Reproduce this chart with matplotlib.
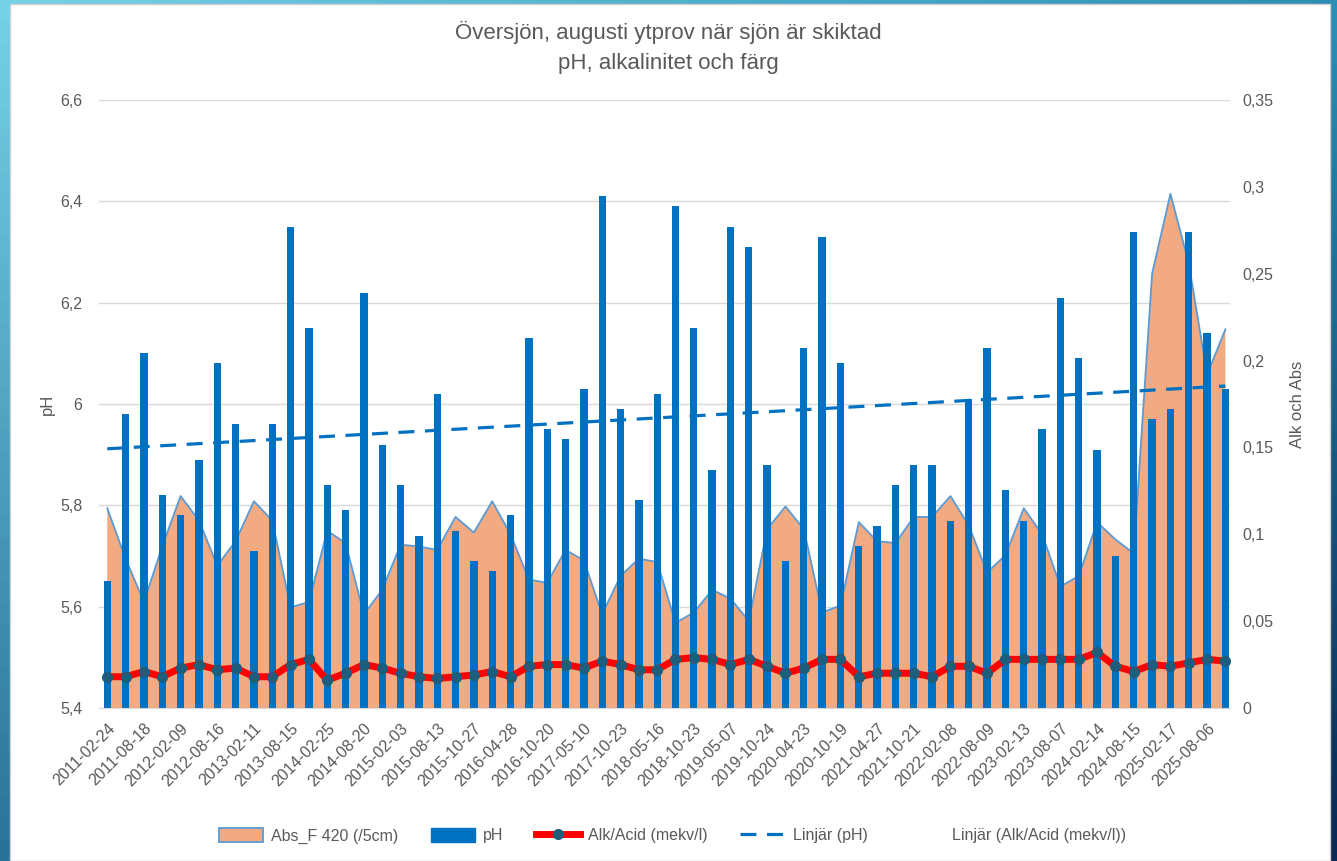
#import
import numpy as np
import matplotlib
matplotlib.use("Agg")
import matplotlib.pyplot as plt
import matplotlib.transforms as mtransforms
from matplotlib.patches import Patch, Rectangle
from matplotlib.lines import Line2D

#data
tickLabels = ["2011-02-24", "2011-08-18", "2012-02-09", "2012-08-16", "2013-02-11", "2013-08-15",
              "2014-02-25", "2014-08-20", "2015-02-03", "2015-08-13", "2015-10-27", "2016-04-28",
              "2016-10-20", "2017-05-10", "2017-10-23", "2018-05-16", "2018-10-23", "2019-05-07",
              "2019-10-24", "2020-04-23", "2020-10-19", "2021-04-27", "2021-10-21", "2022-02-08",
              "2022-08-09", "2023-02-13", "2023-08-07", "2024-02-14", "2024-08-15", "2025-02-17",
              "2025-08-06"]

phValues = [5.65, 5.98, 6.10, 5.82, 5.78, 5.89, 6.08, 5.96, 5.71, 5.96,
            6.35, 6.15, 5.84, 5.79, 6.22, 5.92, 5.84, 5.74, 6.02, 5.75,
            5.69, 5.67, 5.78, 6.13, 5.95, 5.93, 6.03, 6.41, 5.99, 5.81,
            6.02, 6.39, 6.15, 5.87, 6.35, 6.31, 5.88, 5.69, 6.11, 6.33,
            6.08, 5.72, 5.76, 5.84, 5.88, 5.88, 5.77, 6.01, 6.11, 5.83,
            5.77, 5.95, 6.21, 6.09, 5.91, 5.70, 6.34, 5.97, 5.99, 6.34,
            6.14, 6.03]

absValues = [0.115, 0.086, 0.061, 0.093, 0.122, 0.108, 0.082, 0.096, 0.119, 0.108,
             0.058, 0.061, 0.102, 0.095, 0.054, 0.068, 0.094, 0.093, 0.091, 0.110,
             0.101, 0.119, 0.100, 0.074, 0.072, 0.091, 0.085, 0.054, 0.076, 0.086,
             0.084, 0.049, 0.055, 0.068, 0.063, 0.050, 0.103, 0.116, 0.103, 0.055,
             0.059, 0.107, 0.096, 0.095, 0.110, 0.110, 0.122, 0.105, 0.078, 0.088,
             0.115, 0.100, 0.070, 0.076, 0.107, 0.097, 0.089, 0.250, 0.296, 0.256,
             0.192, 0.218]

alkValues = [0.018, 0.018, 0.021, 0.018, 0.023, 0.025, 0.022, 0.023, 0.018, 0.018,
             0.025, 0.028, 0.016, 0.020, 0.025, 0.023, 0.020, 0.018, 0.017, 0.018,
             0.019, 0.021, 0.018, 0.024, 0.025, 0.025, 0.023, 0.027, 0.025, 0.022,
             0.022, 0.028, 0.029, 0.028, 0.025, 0.028, 0.024, 0.020, 0.023, 0.028,
             0.028, 0.018, 0.020, 0.020, 0.020, 0.018, 0.024, 0.024, 0.020, 0.028,
             0.028, 0.028, 0.028, 0.028, 0.032, 0.024, 0.021, 0.025, 0.024, 0.026,
             0.028, 0.027]

leftTicks = [5.4, 5.6, 5.8, 6.0, 6.2, 6.4, 6.6]
rightTicks = [0, 0.05, 0.1, 0.15, 0.2, 0.25, 0.3, 0.35]

#style
plt.rcParams['font.family'] = ['Liberation Sans', 'DejaVu Sans']
textColor = "#595959"
gridColor = "#d9d9d9"
barColor = "#0070c0"
areaColor = "#f1aa82"
areaEdge = "#5b9bd5"

def comma(v):
    s = ("%g" % v)
    return s.replace(".", ",")

x = np.arange(len(phValues))

fig = plt.figure(figsize=(13.37, 8.61), dpi=100)

#slide background behind the chart
bg = fig.add_axes([0, 0, 1, 1], zorder=-2)
tl, tr = np.array([0.46, 0.82, 0.90]), np.array([0.18, 0.56, 0.71])
bl, br = np.array([0.17, 0.45, 0.60]), np.array([0.04, 0.16, 0.32])
u = np.linspace(0, 1, 60)[None, :, None]
v = np.linspace(0, 1, 40)[:, None, None]
grad = (1 - v) * ((1 - u) * tl + u * tr) + v * ((1 - u) * bl + u * br)
bg.imshow(grad, aspect='auto', extent=[0, 1, 0, 1])
bg.axis('off')
fig.add_artist(Rectangle((10 / 1337, 0), 1320 / 1337, 857 / 861, transform=fig.transFigure,
                         facecolor="white", edgecolor="#d0d0d0", lw=1, zorder=-1))

ax = fig.add_axes([99 / 1337, 1 - 708 / 861, (1230 - 99) / 1337, 608 / 861])
ax2 = ax.twinx()

#area and alk on right axis, drawn inside ax for stacking
ax.fill_between(x, absValues, 0, transform=ax2.transData, facecolor=areaColor,
                edgecolor="none", zorder=1)
ax.plot(x, absValues, transform=ax2.transData, color=areaEdge, lw=1.3, zorder=1.5)
ax.bar(x, phValues, width=0.4, bottom=0, color=barColor, zorder=2)

#trend line pH
k, m = np.polyfit(x + 1, phValues, 1)
ax.plot(x, k * (x + 1) + m, color=barColor, lw=2.3, linestyle=(0, (5, 3.3)), zorder=3)

ax.plot(x, alkValues, transform=ax2.transData, color="#ff0000", lw=5,
        marker="o", markersize=7, markerfacecolor="#1f5d7c", markeredgecolor="#1f5d7c", zorder=4)

ax.set_xlim(-0.45, 61.25)
ax.set_ylim(5.4, 6.6)
ax2.set_ylim(0, 0.35)

ax.set_yticks(leftTicks)
ax.set_yticklabels([comma(t) for t in leftTicks])
ax2.set_yticks(rightTicks)
ax2.set_yticklabels([comma(t) for t in rightTicks])

ax.set_xticks(x[::2])
ax.set_xticklabels(tickLabels, rotation=45, ha="right", va="top", rotation_mode="anchor")
shift = mtransforms.ScaledTranslation(-5 / 100, 0, fig.dpi_scale_trans)
for lab in ax.get_xticklabels():
    lab.set_transform(lab.get_transform() + shift)

ax.grid(axis="y", color=gridColor, lw=1)
ax.set_axisbelow(True)
for a in (ax, ax2):
    for s in a.spines.values():
        s.set_visible(False)
    a.tick_params(length=0, colors=textColor, labelsize=11.5)
ax.spines["bottom"].set_visible(True)
ax.spines["bottom"].set_color(gridColor)
ax.tick_params(axis="y", pad=12)
ax2.tick_params(axis="y", pad=9)
ax.tick_params(axis="x", pad=9)

ax.set_ylabel("pH", color=textColor, fontsize=12, labelpad=4)
ax2.set_ylabel("Alk och Abs", color=textColor, fontsize=12, rotation=90, labelpad=12)

fig.text(0.5, 1 - 32 / 861, "Översjön, augusti ytprov när sjön är skiktad", ha="center", va="center",
         fontsize=16, color=textColor)
fig.text(0.5, 1 - 64 / 861, "pH, alkalinitet och färg", ha="center", va="center",
         fontsize=16, color=textColor)

#legend
handles = [Patch(facecolor=areaColor, edgecolor=areaEdge, lw=1.3),
           Patch(facecolor=barColor, edgecolor=barColor),
           Line2D([], [], color="#ff0000", lw=5, marker="o", markersize=7,
                  markerfacecolor="#1f5d7c", markeredgecolor="#1f5d7c"),
           Line2D([], [], color=barColor, lw=2.3, linestyle=(0, (5, 3.3))),
           Line2D([], [], color="none")]
names = ["Abs_F 420 (/5cm)", "pH", "Alk/Acid (mekv/l)", "Linjär (pH)", "Linjär (Alk/Acid (mekv/l))"]
fig.legend(handles, names, loc="center", bbox_to_anchor=(0.503, 1 - 836 / 861), ncol=5, frameon=False,
           fontsize=11.5, labelcolor=textColor, handlelength=2.8, handleheight=0.9,
           columnspacing=2.0, handletextpad=0.5)

fig.savefig("out.png", dpi=100)
